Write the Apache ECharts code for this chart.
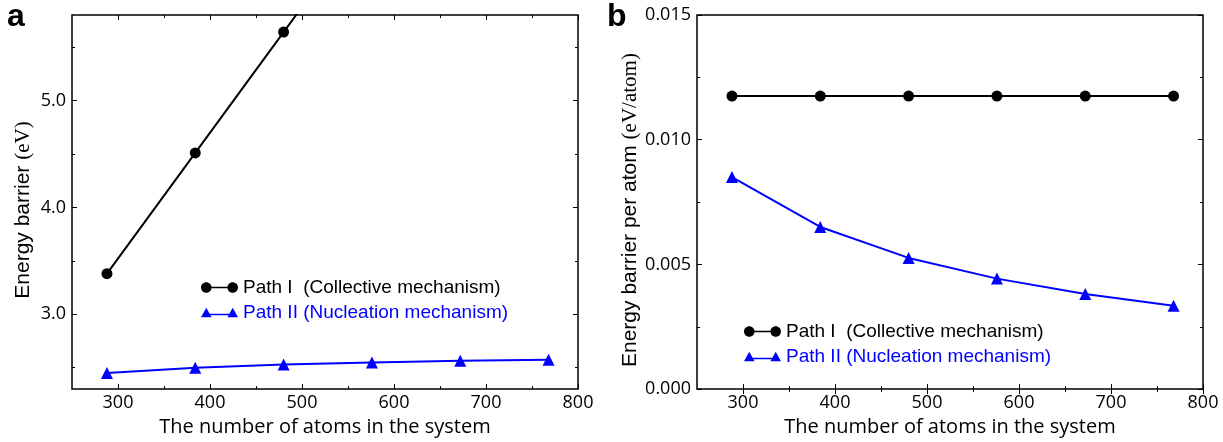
<!DOCTYPE html>
<html>
<head>
<meta charset="utf-8">
<script src="https://cdn.jsdelivr.net/npm/echarts@6/dist/echarts.min.js"></script>
<style>html,body{margin:0;padding:0;background:#fff}#c{width:1223px;height:442px}</style>
</head>
<body>
<div id="c"></div>
<script>
// ---- data ----
const atomCounts = [288, 384, 480, 576, 672, 768];
const energyPathI = [3.38, 4.51, 5.64, 6.77, 7.90, 9.02];
const energyPathII = [2.45, 2.50, 2.53, 2.55, 2.565, 2.575];
const perAtomPathI = [0.01175, 0.01175, 0.01175, 0.01175, 0.01175, 0.01175];
const perAtomPathII = [0.0085, 0.0065, 0.00526, 0.00443, 0.00381, 0.00334];
const xMajorTicks = [300, 400, 500, 600, 700, 800];
const xMinorTicks = [350, 450, 550, 650, 750];
const energyMajorTicks = [3, 4, 5];
const energyMinorTicks = [2.5, 3.5, 4.5, 5.5];
const perAtomMajorTicks = [0, 0.005, 0.010, 0.015];
const perAtomMinorTicks = [0.0025, 0.0075, 0.0125];
const seriesNames = ['Path I  (Collective mechanism)', 'Path II (Nucleation mechanism)'];
const panelLabels = ['a', 'b'];

const BLACK = '#000000', BLUE = '#0000ff';
const tickFont = {fontFamily: 'Open Sans', fontSize: 18, color: '#000'};

function pairs(xs, ys) { return xs.map((x, i) => [x, ys[i]]); }

function makeX(grid) {
  const base = {type: 'value', gridIndex: grid, min: 250, max: 800, splitLine: {show: false}, axisLine: {show: false}};
  return [
    Object.assign({}, base, {position: 'bottom',
      axisTick: {show: true, inside: true, length: 5, customValues: xMajorTicks, lineStyle: {color: '#000', width: 1}},
      axisLabel: {show: true, customValues: xMajorTicks, margin: 5, ...tickFont},
      name: 'The number of atoms in the system', nameLocation: 'middle', nameGap: 26,
      nameTextStyle: {fontFamily: 'Open Sans', fontSize: 20, color: '#000'}}),
    Object.assign({}, base, {position: 'top', axisTick: {show: true, inside: true, length: 5, customValues: xMajorTicks, lineStyle: {color: '#000'}}, axisLabel: {show: false}}),
    Object.assign({}, base, {position: 'bottom', axisTick: {show: true, inside: true, length: 3, customValues: xMinorTicks, lineStyle: {color: '#000'}}, axisLabel: {show: false}}),
    Object.assign({}, base, {position: 'top', axisTick: {show: true, inside: true, length: 3, customValues: xMinorTicks, lineStyle: {color: '#000'}}, axisLabel: {show: false}})
  ];
}

function makeY(grid, min, max, majors, minors, digits, nameRich, nameGap) {
  const base = {type: 'value', gridIndex: grid, min: min, max: max, splitLine: {show: false}, axisLine: {show: false}};
  return [
    Object.assign({}, base, {position: 'left',
      axisTick: {show: true, inside: true, length: 5, customValues: majors, lineStyle: {color: '#000'}},
      axisLabel: {show: true, customValues: majors, margin: 6, formatter: v => Number(v).toFixed(digits), ...tickFont},
      name: nameRich, nameLocation: 'middle', nameGap: nameGap,
      nameTextStyle: {rich: {
        s: {fontFamily: 'Liberation Sans', fontSize: 21, color: '#000'},
        t: {fontFamily: 'Liberation Serif', fontSize: 21, color: '#000'},
        p: {width: 16, fontSize: 21}
      }}}),
    Object.assign({}, base, {position: 'right', axisTick: {show: true, inside: true, length: 5, customValues: majors, lineStyle: {color: '#000'}}, axisLabel: {show: false}}),
    Object.assign({}, base, {position: 'left', axisTick: {show: true, inside: true, length: 3, customValues: minors, lineStyle: {color: '#000'}}, axisLabel: {show: false}}),
    Object.assign({}, base, {position: 'right', axisTick: {show: true, inside: true, length: 3, customValues: minors, lineStyle: {color: '#000'}}, axisLabel: {show: false}})
  ];
}

function circ(cx) {
  const k = 5.523, r = 10, cy = 10;
  return `M${cx - r} ${cy} C${cx - r} ${cy - k} ${cx - k} ${cy - r} ${cx} ${cy - r} ` +
    `C${cx + k} ${cy - r} ${cx + r} ${cy - k} ${cx + r} ${cy} ` +
    `C${cx + r} ${cy + k} ${cx + k} ${cy + r} ${cx} ${cy + r} ` +
    `C${cx - k} ${cy + r} ${cx - r} ${cy + k} ${cx - r} ${cy} Z `;
}
const circleIcon = 'path://' + circ(10) + circ(60) + 'M10 8.6 L60 8.6 L60 11.4 L10 11.4 Z';
const triIcon = 'path://M0 20 L10 2 L20 20 Z M50 20 L60 2 L70 20 Z M10 13.6 L60 13.6 L60 16.4 L10 16.4 Z';

function legendAt(left, top) {
  return {
    left: left, top: top, orient: 'vertical', itemWidth: 37, itemHeight: 10.6, itemGap: 6,
    selectedMode: false,
    textStyle: {fontFamily: 'Liberation Sans', fontSize: 19},
    data: [
      {name: seriesNames[0], icon: circleIcon, itemStyle: {color: BLACK}, textStyle: {color: BLACK}},
      {name: seriesNames[1], icon: triIcon, itemStyle: {color: BLUE}, textStyle: {color: BLUE}}
    ]
  };
}

function lineSeries(name, data, xi, yi, color, symbol, size) {
  return {
    type: 'line', name: name, data: data, xAxisIndex: xi, yAxisIndex: yi,
    symbol: symbol, symbolSize: size, showSymbol: true, clip: true,
    lineStyle: {color: color, width: 2}, itemStyle: {color: color}
  };
}

const chart = echarts.init(document.getElementById('c'), null, {renderer: 'canvas'});
chart.setOption({
  animation: false,
  backgroundColor: '#fff',
  grid: [
    {left: 72, top: 15, width: 506, height: 377, show: true, borderColor: '#000', borderWidth: 1.5, backgroundColor: 'transparent'},
    {left: 697, top: 15, width: 506, height: 377, show: true, borderColor: '#000', borderWidth: 1.5, backgroundColor: 'transparent'}
  ],
  xAxis: makeX(0).concat(makeX(1)),
  yAxis: makeY(0, 2.3, 5.8, energyMajorTicks, energyMinorTicks, 1, '{s|Energy barrier }{t|(eV)}{p|}', 38)
    .concat(makeY(1, 0, 0.015, perAtomMajorTicks, perAtomMinorTicks, 3, '{s|Energy barrier per atom }{t|(eV/atom)}{p|}', 56)),
  legend: [legendAt(196, 273), legendAt(739, 317)],
  graphic: [
    {type: 'text', left: 7, top: 1, style: {text: panelLabels[0], font: 'bold 32px "Liberation Sans"', fill: '#000'}},
    {type: 'text', left: 607, top: 1, style: {text: panelLabels[1], font: 'bold 32px "Liberation Sans"', fill: '#000'}}
  ],
  series: [
    lineSeries(seriesNames[0], pairs(atomCounts, energyPathI), 0, 0, BLACK, 'circle', 11),
    lineSeries(seriesNames[1], pairs(atomCounts, energyPathII), 0, 0, BLUE, 'triangle', 12),
    lineSeries(seriesNames[0], pairs(atomCounts, perAtomPathI), 4, 4, BLACK, 'circle', 11),
    lineSeries(seriesNames[1], pairs(atomCounts, perAtomPathII), 4, 4, BLUE, 'triangle', 12)
  ]
});
</script>
</body>
</html>
